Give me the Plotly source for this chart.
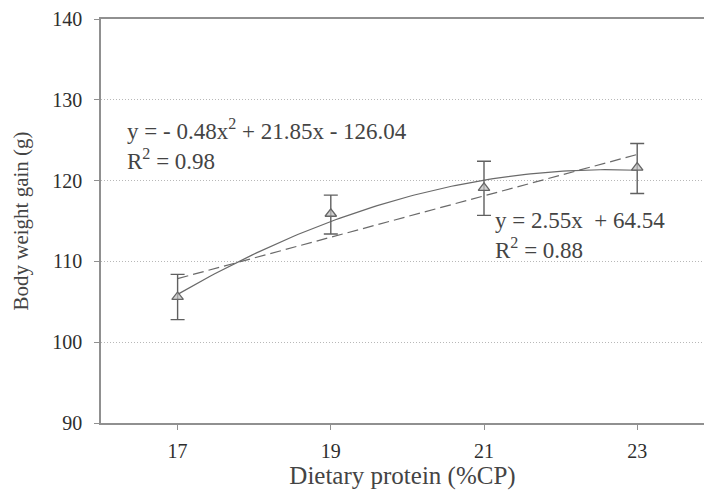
import numpy as np
import plotly.graph_objects as go

# Data
protein = [17, 19, 21, 23]
gain = [105.6, 115.9, 119.1, 121.6]
err_plus = [2.8, 2.3, 3.3, 3.0]
err_minus = [2.8, 2.5, 3.4, 3.2]
x_ticks = [17, 19, 21, 23]
y_ticks = [90, 100, 110, 120, 130, 140]
eq_quad = ["y = - 0.48x<sup>2</sup> + 21.85x - 126.04", "R<sup>2</sup> = 0.98"]
eq_lin = ["y = 2.55x  + 64.54", "R<sup>2</sup> = 0.88"]

# Trend lines (fits of the data, as in the original)
xs = np.linspace(min(protein), max(protein), 100)
quad = np.polyval(np.polyfit(protein, gain, 2), xs)
lin = np.polyval(np.polyfit(protein, gain, 1), xs)

LINE = "#6a6a6a"
TXT = "#444444"
FONT = "Liberation Serif, Times New Roman, serif"

fig = go.Figure()
fig.add_trace(go.Scatter(x=xs, y=quad, mode="lines",
                         line=dict(color=LINE, width=1.2), hoverinfo="skip"))
fig.add_trace(go.Scatter(x=xs, y=lin, mode="lines",
                         line=dict(color=LINE, width=1.2, dash="11px,5px"), hoverinfo="skip"))
fig.add_trace(go.Scatter(
    x=protein, y=gain, mode="markers",
    marker=dict(symbol="triangle-up", size=10, color="rgba(190,190,190,0.7)",
                line=dict(color="#666666", width=1.3)),
    error_y=dict(type="data", array=err_plus, arrayminus=err_minus, symmetric=False,
                 color="#606060", thickness=1.4, width=7)))

W, H = 704, 494
L, R, T, B = 101, 0, 19, 71
pw, ph = W - L - R, H - T - B

def px(xp):
    return (xp - L) / pw

def py(yp):
    return 1 - (yp - T) / ph

fig.add_annotation(xref="paper", yref="paper", x=px(125), y=py(176), xanchor="left", yanchor="bottom",
                   text="<br>".join(eq_quad), showarrow=False, align="left",
                   font=dict(family=FONT, size=23, color=TXT))
fig.add_annotation(xref="paper", yref="paper", x=px(493), y=py(265), xanchor="left", yanchor="bottom",
                   text="<br>".join(eq_lin), showarrow=False, align="left",
                   font=dict(family=FONT, size=23, color=TXT))

fig.update_layout(
    width=W, height=H, margin=dict(l=L, r=R, t=T, b=B, autoexpand=False),
    paper_bgcolor="white", plot_bgcolor="white", showlegend=False,
    font=dict(family=FONT, color=TXT),
    xaxis=dict(range=[16, 16 + pw / 76.6], tickvals=x_ticks, ticks="outside", ticklen=5,
               tickcolor="#909090", showline=True, linecolor="#909090", linewidth=1.6,
               mirror=True, showgrid=False, zeroline=False, ticklabelstandoff=4,
               tickfont=dict(family=FONT, size=20, color="#2e2e2e"),
               title=dict(text="Dietary protein (%CP)", standoff=6,
                          font=dict(family=FONT, size=25, color=TXT))),
    yaxis=dict(range=[90, 140], tickvals=y_ticks, ticks="outside", ticklen=5,
               tickcolor="#909090", showline=True, linecolor="#909090", linewidth=1.6,
               showgrid=True, gridcolor="#b8b8b8", griddash="1px,2px", gridwidth=1,
               zeroline=False, ticklabelstandoff=8,
               tickfont=dict(family=FONT, size=20, color="#2e2e2e"),
               title=dict(text="Body weight gain (g)", standoff=18,
                          font=dict(family=FONT, size=21, color=TXT))),
)

fig.write_html("out.html", config={"displayModeBar": False},
               post_script="document.body.style.margin='0';")
